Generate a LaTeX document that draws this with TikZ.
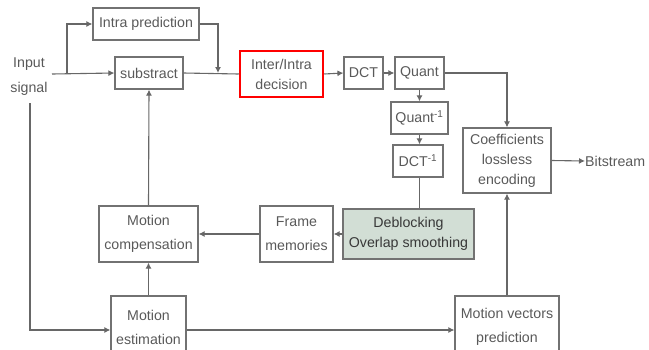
\documentclass[tikz,border=0pt]{standalone}
\usepackage{fontspec}
\setmainfont{Liberation Sans}
\usetikzlibrary{arrows.meta}
\definecolor{linegray}{HTML}{676767}
\definecolor{textgray}{HTML}{595959}
\definecolor{boxgray}{HTML}{727272}
\definecolor{deblockfill}{HTML}{D2DED5}
\begin{document}
\begin{tikzpicture}[x=1pt,y=-1pt,
  blk/.style={draw=boxgray, line width=1.2pt, inner sep=0pt, align=center,
    text=textgray, font=\fontsize{14.2}{20}\selectfont},
  wide/.style={font=\fontsize{14.2}{24}\selectfont},
  link/.style={draw=linegray, line width=1.1pt},
  arr/.style={link, -{Latex[length=6pt,width=6pt]}}]
\useasboundingbox (0,0) rectangle (649,349);
\clip (0,0) rectangle (649,349);

% upper chain
\node[blk, minimum width=106, minimum height=32] (intra) at (146,24) {Intra prediction};
\node[blk, minimum width=68, minimum height=32] (sub) at (149,73) {substract};
\node[blk, draw=red, line width=2.5pt, minimum width=83, minimum height=46] (dec) at (281.5,74) {Inter/Intra\\decision};
\node[blk, minimum width=39, minimum height=32] (dct) at (363.5,73) {DCT};
\node[blk, minimum width=49, minimum height=32] (quant) at (419.5,73) {Quant};
\node[blk, minimum width=57, minimum height=32] (qinv) at (419.5,118) {Quant\textsuperscript{-1}};
\node[blk, minimum width=50, minimum height=32] (dinv) at (418,161) {DCT\textsuperscript{-1}};
\node[blk, minimum width=88, minimum height=65] (coef) at (507,160.5) {Coefficients\\lossless\\encoding};

% reconstruction loop
\node[blk, fill=deblockfill, text=black!78, minimum width=131, minimum height=50] (deb) at (408.5,234) {Deblocking\\Overlap smoothing};
\node[blk, wide, minimum width=73, minimum height=56] (frame) at (296.5,234) {Frame\\memories};
\node[blk, wide, minimum width=99, minimum height=56] (mc) at (148.5,234) {Motion\\compensation};

% motion path
\node[blk, wide, minimum width=75, minimum height=62] (me) at (148.5,327) {Motion\\estimation};
\node[blk, wide, minimum width=104, minimum height=62] (mvp) at (507,327) {Motion vectors\\prediction};

% terminals
\node[align=center, text=textgray, font=\fontsize{14.2}{25}\selectfont] (input) at (29,77) {Input\\signal};
\node[anchor=west, inner sep=0pt, text=textgray, font=\fontsize{14.2}{20}\selectfont] (bits) at (585,161) {Bitstream};

\coordinate (in0) at (52,74);
\coordinate (split) at (67,74);
\coordinate (down0) at (30,103);
\coordinate (join) at (218,73);

% connectors
\draw[arr] (in0) -- (sub.west);
\draw[arr] (split) |- (intra.west);
\draw[arr] (intra.east) -| (join);
\draw[link] (sub.east) -- (dec.west);
\draw[arr] (dec.east) -- (dct.west);
\draw[arr] (dct.east) -- (quant.west);
\draw[arr] (quant.east) -| (coef.north);
\draw[arr] (quant.south) -- (qinv.north);
\draw[arr] (qinv.south) -- (qinv.south |- dinv.north);
\draw[link] (qinv.south |- dinv.south) -- (qinv.south |- deb.north);
\draw[arr] (deb.west) -- (frame.east);
\draw[arr] (frame.west) -- (mc.east);
\draw[arr] (mc.north) -- (sub.south);
\draw[arr] (me.north) -- (mc.south);
\draw[arr] (down0) |- ([yshift=-3]me.west);
\draw[arr] ([yshift=-3]me.east) -- ([yshift=-3]mvp.west);
\draw[arr] (mvp.north) -- (coef.south);
\draw[arr] (coef.east) -- (bits.west);
\end{tikzpicture}
\end{document}
